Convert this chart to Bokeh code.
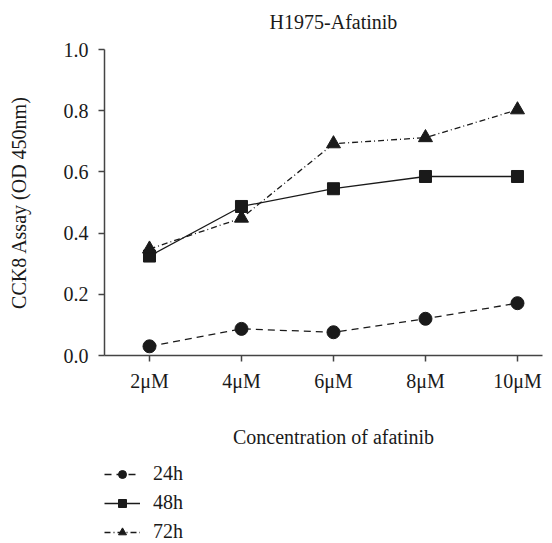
from bokeh.plotting import figure
from bokeh.layouts import column
from bokeh.models import Range1d, FixedTicker, Legend, LegendItem, Label, PrintfTickFormatter
from bokeh.embed import file_html
from bokeh.resources import INLINE

# ---- data ----
concentrations = ["2μM", "4μM", "6μM", "8μM", "10μM"]
h24 = [0.030, 0.087, 0.076, 0.120, 0.171]
h48 = [0.325, 0.487, 0.545, 0.585, 0.585]
h72 = [0.348, 0.449, 0.692, 0.712, 0.803]
y_ticks = [0.0, 0.2, 0.4, 0.6, 0.8, 1.0]
series_names = ["24h", "48h", "72h"]
title_text = "H1975-Afatinib"
x_label = "Concentration of afatinib"
y_label = "CCK8 Assay (OD 450nm)"

FONT = "Liberation Serif"
INK = "#1a1a1a"
AXIS = "#444444"

# per-series styles: (values, marker, marker size, dash)
styles = [
    (h24, "circle", 13, "7 5"),
    (h48, "square", 12, "solid"),
    (h72, "triangle", 14, "6 3 1 3"),
]

x = list(range(len(concentrations)))
xr = Range1d(-0.489, 4.272)


def strip(height):
    f = figure(width=552, height=height, output_backend="svg", toolbar_location=None,
               x_range=xr, y_range=Range1d(0, height),
               x_axis_type=None, y_axis_type=None, min_border=0, title=None)
    f.grid.visible = False
    f.outline_line_color = None
    f.border_fill_color = "white"
    f.background_fill_color = "white"
    return f


# ---- title strip ----
t = strip(37)
t.add_layout(Label(x=2, y=16, text=title_text, text_font=FONT, text_font_size="20px",
                   text_color=INK, text_align="center", text_baseline="middle"))

# ---- main chart ----
p = figure(width=552, height=378, output_backend="svg", toolbar_location=None,
           x_range=xr, y_range=Range1d(0, 1),
           min_border_left=104, min_border_right=10, min_border_top=12,
           min_border_bottom=60, title=None)
p.grid.visible = False
p.outline_line_color = None
p.background_fill_color = "white"
p.border_fill_color = "white"

for ax in (p.xaxis[0], p.yaxis[0]):
    ax.axis_line_color = AXIS
    ax.axis_line_width = 1.5
    ax.major_tick_line_color = AXIS
    ax.major_tick_line_width = 1.5
    ax.major_tick_in = 0
    ax.major_tick_out = 6
    ax.minor_tick_line_color = None
    ax.major_label_text_font = FONT
    ax.major_label_text_font_size = "20px"
    ax.major_label_text_color = INK
    ax.axis_label_text_font = FONT
    ax.axis_label_text_font_size = "20px"
    ax.axis_label_text_font_style = "normal"
    ax.axis_label_text_color = INK

p.xaxis.ticker = FixedTicker(ticks=x)
p.xaxis.major_label_overrides = {i: c for i, c in enumerate(concentrations)}
p.xaxis.major_label_standoff = 8

p.yaxis.ticker = FixedTicker(ticks=y_ticks)
p.yaxis.formatter = PrintfTickFormatter(format="%.1f")
p.yaxis.major_label_standoff = 10
p.yaxis.axis_label = y_label
p.yaxis.axis_label_standoff = 31

for vals, mk, sz, dash in styles:
    p.line(x, vals, line_color=INK, line_width=1.3, line_dash=dash)
    p.scatter(x, vals, marker=mk, size=sz, fill_color=INK, line_color=INK)

# ---- strip below: x-axis title and legend ----
q = strip(128)
q.extra_y_ranges = {"off": Range1d(10, 11)}   # keeps the legend's renderers out of view

q.add_layout(Label(x=2, y=107, text=x_label, text_font=FONT, text_font_size="20px",
                   text_color=INK, text_align="center", text_baseline="middle"))

items = []
for name, (vals, mk, sz, dash) in zip(series_names, styles):
    rl = q.line(x, vals, line_color=INK, line_width=1.3, line_dash=dash, y_range_name="off")
    rm = q.scatter(x, vals, marker=mk, size=sz, fill_color=INK, line_color=INK,
                   y_range_name="off")
    items.append(LegendItem(label=name, renderers=[rl, rm]))

legend = Legend(items=items, location=(0, 0), margin=0, padding=0, spacing=6,
                label_height=20, glyph_height=20, glyph_width=36, label_standoff=13,
                border_line_alpha=0, background_fill_alpha=0,
                label_text_font=FONT, label_text_font_size="20px", label_text_color=INK)
q.add_layout(legend)

layout = column(t, p, q, spacing=0)
open("out.html", "w").write(file_html(layout, INLINE))
